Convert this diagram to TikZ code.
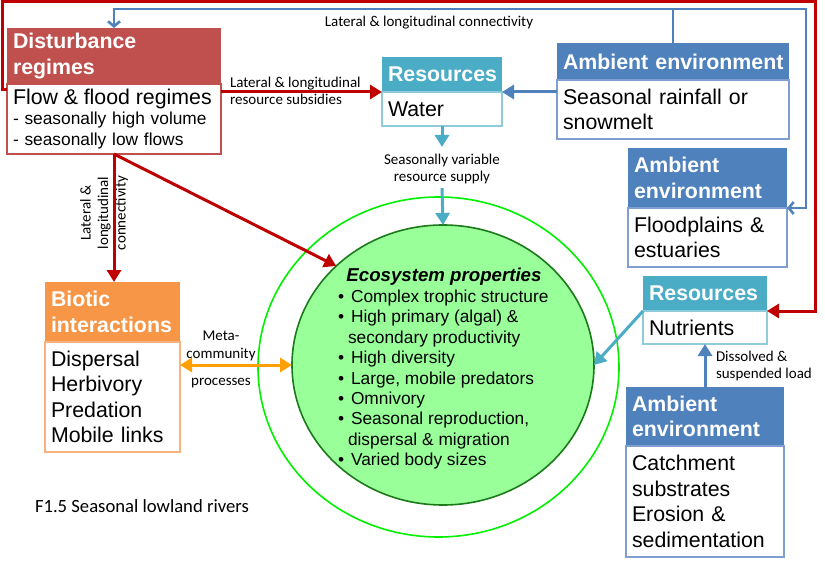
\documentclass[tikz,border=0pt]{standalone}
\usepackage{fontspec}
\setmainfont{Liberation Sans}
\newfontfamily\calibri{Carlito}
\usetikzlibrary{positioning,arrows.meta,shapes.geometric}
\definecolor{distred}{HTML}{C0504D}
\definecolor{linered}{HTML}{C00000}
\definecolor{rescyan}{HTML}{4BACC6}
\definecolor{resline}{HTML}{8FCBDB}
\definecolor{ambblue}{HTML}{4F81BD}
\definecolor{ambline}{HTML}{7F9FD2}
\definecolor{biorange}{HTML}{F79646}
\definecolor{bioline}{HTML}{F9B27F}
\definecolor{metaorange}{HTML}{FFA000}
\definecolor{ecofill}{HTML}{99FF99}
\definecolor{ecoline}{HTML}{1A7A1A}
\definecolor{ringgreen}{HTML}{00F000}
\newcommand{\boxfont}{\fontsize{21.33}{25.5}\selectfont}
\newcommand{\listfont}{\fontsize{17.33}{20.4}\selectfont}
\newcommand{\lblfont}{\calibri\fontsize{15}{17.5}\selectfont}
\newcommand{\ecobullet}{\makebox[13pt][l]{\textbullet}}
\begin{document}
\begin{tikzpicture}[x=1pt,y=-1pt,
every node/.style={inner sep=0pt, outer sep=0pt},
hdr/.style={anchor=north west, text=white, font=\boxfont\bfseries, align=left, inner xsep=6pt},
bodybox/.style={fill=white, font=\boxfont, align=left, inner xsep=6pt, line width=1.2pt},
lbl/.style={font=\lblfont, align=center},
redline/.style={draw=linered, line width=3pt},
redarrow/.style={redline, -{Triangle[length=12pt,width=14pt]}},
bluecon/.style={draw=ambblue, line width=2.6pt, -{Straight Barb[length=5pt,width=12pt]}},
bluearrow/.style={draw=ambblue, line width=3pt, -{Triangle[length=12pt,width=14pt]}},
cyanarrow/.style={draw=rescyan, line width=3pt, -{Triangle[length=12pt,width=14pt]}},
metaarrow/.style={draw=metaorange, line width=3pt, {Triangle[length=12pt,width=14pt]}-{Triangle[length=12pt,width=14pt]}}]
\useasboundingbox (0,0) rectangle (825,567);
% ecosystem core
\node[ellipse, draw=ringgreen, line width=1.6pt, minimum width=361pt, minimum height=340pt] (ring) at (438.5,367) {};
\node[ellipse, draw=ecoline, fill=ecofill, line width=1.6pt, minimum width=302pt, minimum height=280pt] (eco) at (443,365) {};
\node[font=\fontsize{18.67}{22}\selectfont\bfseries\itshape, anchor=base] (ecotitle) at (444,281) {Ecosystem properties};
\node[font=\listfont, align=left, anchor=north west] (ecolist) at (338,290) {\ecobullet Complex trophic structure\\
\ecobullet High primary (algal) \&\\
\hspace*{10pt}secondary productivity\\
\ecobullet High diversity\\
\ecobullet Large, mobile predators\\
\ecobullet Omnivory\\
\ecobullet Seasonal reproduction,\\
\hspace*{10pt}dispersal \& migration\\
\ecobullet Varied body sizes};
% boxes
\node[hdr, fill=distred, text width=202pt, minimum height=56pt] (dhead) at (7,28) {Disturbance\\regimes};
\node[bodybox, draw=distred, text width=202pt, minimum height=70pt, below=0pt of dhead, font=\listfont] (dbody) {{\boxfont Flow \& flood regimes}\\- seasonally high volume\\- seasonally low flows};
\node[hdr, fill=rescyan, text width=108pt, minimum height=35pt] (wathead) at (382,57) {Resources};
\node[bodybox, draw=resline, text width=108pt, minimum height=34pt, below=0pt of wathead] (watbody) {Water};
\node[hdr, fill=ambblue, text width=220pt, minimum height=37pt] (amb1head) at (557,43) {\mbox{Ambient environment}};
\node[bodybox, draw=ambline, text width=220pt, minimum height=59pt, below=0pt of amb1head] (amb1body) {Seasonal rainfall or\\snowmelt};
\node[hdr, fill=ambblue, text width=147pt, minimum height=60pt] (amb2head) at (628,148) {Ambient\\environment};
\node[bodybox, draw=ambline, text width=147pt, minimum height=59pt, below=0pt of amb2head] (amb2body) {Floodplains \&\\estuaries};
\node[hdr, fill=rescyan, text width=112pt, minimum height=35pt] (nuthead) at (643,276) {Resources};
\node[bodybox, draw=resline, text width=112pt, minimum height=33pt, below=0pt of nuthead] (nutbody) {Nutrients};
\node[hdr, fill=ambblue, text width=146pt, minimum height=59pt] (amb3head) at (626,387) {Ambient\\environment};
\node[bodybox, draw=ambline, text width=146pt, minimum height=111pt, below=0pt of amb3head] (amb3body) {Catchment\\substrates\\Erosion \&\\sedimentation};
\node[hdr, fill=biorange, text width=123pt, minimum height=60pt] (bhead) at (45,282) {Biotic\\interactions};
\node[bodybox, draw=bioline, text width=123pt, minimum height=110pt, below=0pt of bhead] (bbody) {Dispersal\\Herbivory\\Predation\\Mobile links};
% labels
\node[lbl] (lblconnect) at (429,23) {Lateral \& longitudinal connectivity};
\node[lbl, align=left, anchor=west] (lblsubsidy) at (230,91) {Lateral \& longitudinal\\resource subsidies};
\node[lbl, rotate=90] (lblbiotic) at (104,213) {Lateral \&\\longitudinal\\connectivity};
\node[lbl] (lblsupply) at (442,169) {Seasonally variable\\resource supply};
\node[lbl] (lblmeta) at (221,346) {Meta-\\community};
\node[lbl] (lblprocess) at (221,383) {processes};
\node[lbl, align=left, anchor=west] (lblload) at (716,366) {Dissolved \&\\suspended load};
\node[font=\calibri\fontsize{18.67}{22}\selectfont, anchor=west] (caption) at (35,506) {F1.5 Seasonal lowland rivers};
% connectors
\coordinate (redtop) at (815,2);
\coordinate (bluetop) at (806,9);
\coordinate (supplytop) at (442,147);
\draw[redarrow] ([yshift=-6pt]dbody.north west) -- ++(-5,0) |- (redtop) |- (nuthead.south east);
\draw[bluecon] (amb1head.north) |- (bluetop) |- (amb2head.south east);
\draw[bluecon] (amb1head.north |- bluetop) -| (dhead.north);
\draw[redarrow] (dbody.east |- wathead.south) -- (wathead.south west);
\draw[bluearrow] (amb1body.west |- wathead.south) -- (wathead.south east);
\draw[cyanarrow] (watbody.south) -- (supplytop);
\draw[cyanarrow] ([yshift=-4pt]lblsupply.south) -- (eco.north);
\draw[redarrow] (dbody.south) -- (dbody.south |- bhead.north);
\draw[redarrow] (dbody.south) -- (eco.north west);
\draw[metaarrow] (eco.west -| bbody.east) -- (eco.west);
\draw[cyanarrow] (nuthead.south west) -- (eco.east);
\draw[bluearrow] (amb3head.north) -- (nutbody.south);
\end{tikzpicture}
\end{document}
